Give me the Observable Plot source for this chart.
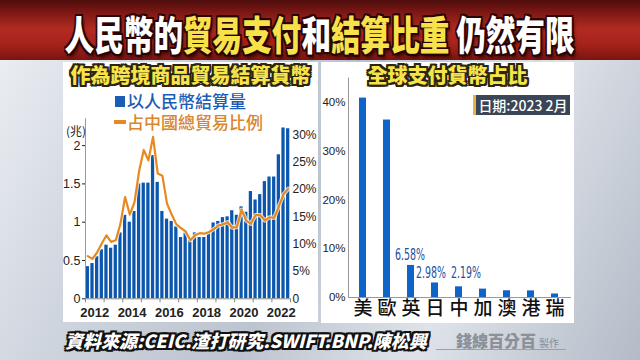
<!DOCTYPE html>
<html><head><meta charset="utf-8">
<script src="https://cdn.jsdelivr.net/npm/d3@7"></script>
<script src="https://cdn.jsdelivr.net/npm/@observablehq/plot@0.6"></script>
<style>
html,body{margin:0;padding:0;}
body{width:640px;height:360px;overflow:hidden;position:relative;font-family:"Noto Sans CJK TC","Noto Sans",sans-serif;
 background:linear-gradient(115deg,#eef1f5 0%,#cfd5de 25%,#bcc4cf 50%,#dfe3e9 72%,#b3bbc7 100%);}
#band{position:absolute;left:0;top:0;width:640px;height:60px;
 background:linear-gradient(180deg,#4d0d0c 0%,#7c1714 20%,#b12b22 48%,#a5221a 75%,#7a1410 100%);}
#title{position:absolute;left:-100px;top:11px;width:840px;text-align:center;line-height:44px;white-space:nowrap;}
#title span.in{display:inline-block;transform:scaleX(0.74);transform-origin:center;font-size:40px;font-weight:900;color:#fff;
 text-shadow:-2px -2px 0 #2a0404,2px -2px 0 #2a0404,-2px 2px 0 #2a0404,2px 2px 0 #2a0404,0 2px 0 #2a0404,0 -2px 0 #2a0404,2px 0 0 #2a0404,-2px 0 0 #2a0404,3px 4px 4px rgba(0,0,0,.6);}
#title .y{color:#f8e24b;}
.panel{position:absolute;background:#fff;}
.ptitle{position:absolute;font-size:20px;font-weight:900;color:#f7e34a;white-space:nowrap;line-height:24px;text-align:center;
 text-shadow:-2px -2px 0 #2b2410,2px -2px 0 #2b2410,-2px 2px 0 #2b2410,2px 2px 0 #2b2410,0 2px 0 #2b2410,0 -2px 0 #2b2410,2px 0 0 #2b2410,-2px 0 0 #2b2410;}
.leg{position:absolute;font-size:17px;font-weight:500;white-space:nowrap;line-height:18px;}
#chartL,#chartR{position:absolute;}
#chartL svg,#chartR svg{overflow:visible;}
#date{position:absolute;left:473px;top:95px;width:97px;height:20px;background:#3a4555;border-left:3px solid #e7b53c;color:#fff;
 font-size:14px;line-height:20px;padding-left:0;box-sizing:border-box;text-align:center;font-weight:500;}
#foot{position:absolute;left:65px;top:328px;font-size:18px;font-weight:900;font-style:italic;color:#fff;white-space:nowrap;line-height:24px;
 text-shadow:-2px -2px 0 #111,2px -2px 0 #111,-2px 2px 0 #111,2px 2px 0 #111,0 2px 0 #111,0 -2px 0 #111,2px 0 0 #111,-2px 0 0 #111;}
#logo{position:absolute;left:456px;top:330px;color:#8b9099;white-space:nowrap;line-height:20px;}
#logo .b{font-size:16px;font-weight:900;}
#logo .s{font-size:10px;margin-left:3px;}
#uline{position:absolute;left:436px;top:349px;width:130px;height:1px;background:#9aa0a8;}
</style></head>
<body>
<div id="band"></div>
<div id="title"><span class="in">人民幣的<span class="y">貿易支付</span>和<span class="y">結算比重</span> 仍然有限</span></div>

<div class="panel" style="left:63px;top:62px;width:255px;height:260px;"></div>
<div class="panel" style="left:321px;top:62px;width:253px;height:261px;"></div>

<div id="chartL" style="left:63px;top:62px;"></div>
<div id="chartR" style="left:321px;top:62px;"></div>

<div class="ptitle" style="left:63px;top:63px;width:255px;">作為跨境商品貿易結算貨幣</div>
<div class="ptitle" style="left:321px;top:63px;width:253px;">全球支付貨幣占比</div>

<div style="position:absolute;left:115px;top:96px;width:10px;height:11px;background:#1b5db5;"></div>
<div class="leg" style="left:127px;top:92px;color:#1b5db5;">以人民幣結算量</div>
<div style="position:absolute;left:114px;top:120px;width:12px;height:4px;background:#e38a24;"></div>
<div class="leg" style="left:127px;top:113px;color:#d9862c;">占中國總貿易比例</div>
<div style="position:absolute;left:66px;top:123px;font-size:12px;color:#222;line-height:16px;">(兆)</div>

<div id="date">日期:2023 2月</div>

<div id="uline"></div>
<div id="foot">資料來源:CEIC.渣打研究.SWIFT.BNP.陳松興</div>
<div id="logo"><span class="b">錢線百分百</span><span class="s">製作</span></div>

<script>
// ---- left chart data (quarterly, 2012Q1 - 2022Q4) ----
const firstYear = 2012;
const settleTrillion = [0.42,0.46,0.55,0.64, 0.70,0.66,0.70,0.86, 1.09,1.00,1.14,1.50,
  1.51,1.51,1.87,1.52, 1.14,1.04,1.01,0.94, 0.80,0.86,0.76,0.86, 0.80,0.80,0.86,0.99,
  1.01,1.06,1.07,1.15, 1.09,1.20,1.13,1.40, 1.29,1.36,1.53,1.59, 1.59,1.88,2.23,2.22];
const tradeSharePct = [7.8,7.3,8.5,10.1, 11.6,10.4,10.7,13.7, 18.6,15.4,17.6,23.3,
  27.2,25.3,29.6,22.9, 22.5,17.4,15.4,13.6, 12.9,12.3,10.7,11.6, 12.0,11.9,12.2,12.7,
  13.4,13.6,14.0,13.0, 13.1,16.3,14.3,13.7, 15.3,15.3,14.3,14.9, 14.8,16.9,19.1,20.1];
const yearTicks = [2012,2013,2014,2015,2016,2017,2018,2019,2020,2021,2022,2023];
const yearLabels = [2012,2014,2016,2018,2020,2022];
const leftTicks = [0,0.5,1,1.5,2];
const rightTicks = [0,5,10,15,20,25,30];

// ---- right chart data ----
const currencies = ["美","歐","英","日","中","加","澳","港","瑞"];
const paySharePct = [40.9,36.4,6.58,2.98,2.19,1.72,1.38,1.36,0.72];
const payTicks = [0,10,20,30,40];

const k = 2.5/35; // right-axis % mapped onto left-axis units
const q = settleTrillion.map((v,i)=>({t: firstYear + i/4, v, p: tradeSharePct[i]}));

const left = Plot.plot({
  width:255, height:260, marginLeft:22, marginRight:28, marginTop:44.8, marginBottom:23.7,
  x:{domain:[2012,2023]}, y:{domain:[0,2.5]},
  style:{background:"transparent", fontFamily:"'Liberation Sans',Arial,sans-serif", color:"#222"},
  marks:[
    Plot.rectY(q,{x1:"t", x2:d=>d.t+0.25, y:"v", fill:"#0c57ae", insetLeft:0.7, insetRight:0.7}),
    Plot.lineY(q,{x:d=>d.t+0.125, y:d=>d.p*k, stroke:"#fff", strokeWidth:4.2, strokeOpacity:0.75}),
    Plot.lineY(q,{x:d=>d.t+0.125, y:d=>d.p*k, stroke:"#e8891f", strokeWidth:2.2}),
    Plot.ruleY([0],{stroke:"#8a8a8a"}),
    Plot.ruleX([2012],{y1:0,y2:2.35,stroke:"#9a9a9a"}),
    Plot.axisY(leftTicks,{anchor:"left", tickSize:3, tickPadding:2, fontSize:12.5, tickFormat:d=>String(d), label:null}),
    Plot.axisY(rightTicks.map(p=>p*k),{anchor:"right", tickSize:0, tickPadding:2, fontSize:12,
      tickFormat:d=>{const p=Math.round(d/k); return p===0?"0":p+"%";}, label:null}),
    Plot.axisX(yearTicks,{tickSize:4, tickFormat:()=>"", label:null, stroke:"#888"}),
    Plot.axisX(yearLabels.map(y=>y+0.5),{tickSize:0, tickPadding:9, fontSize:13, fontWeight:"bold",
      tickFormat:d=>String(Math.floor(d)), label:null})
  ]
});
document.getElementById("chartL").append(left);

const pd = currencies.map((c,i)=>({c, v:paySharePct[i]}));
const narrow = "'Liberation Sans Narrow','DejaVu Sans Condensed','Liberation Sans',sans-serif";
const right = Plot.plot({
  width:253, height:261, marginLeft:27, marginRight:4, marginTop:15.6, marginBottom:26,
  x:{type:"band", domain:currencies, paddingInner:0.7, paddingOuter:0.335},
  y:{domain:[0,45]},
  style:{background:"transparent", fontFamily:"'Liberation Sans',Arial,sans-serif", color:"#222"},
  marks:[
    Plot.barY(pd,{x:"c", y:"v", fill:"#0e65c7"}),
    Plot.frame({anchor:"left", stroke:"#999"}),
    Plot.frame({anchor:"bottom", stroke:"#999"}),
    Plot.axisY(payTicks,{tickSize:0, tickPadding:3, fontSize:11.5, tickFormat:d=>d+"%", label:null}),
    Plot.axisX({tickSize:0, tickPadding:4, fontSize:19, fontWeight:500,
      fontFamily:"'Noto Sans CJK TC',sans-serif", fill:"#111", label:null}),
    Plot.text(pd.filter(d=>d.c==="英"),{x:"c", y:"v", text:d=>d.v.toFixed(2)+"%", lineAnchor:"bottom", dy:-5, dx:-1, fontSize:15, fontFamily:narrow, fill:"#1c4f9e"}),
    Plot.text(pd.filter(d=>d.c==="日"),{x:"c", y:"v", text:d=>d.v.toFixed(2)+"%", lineAnchor:"bottom", dy:-5, dx:-4, fontSize:15, fontFamily:narrow, fill:"#1c4f9e"}),
    Plot.text(pd.filter(d=>d.c==="中"),{x:"c", y:"v", text:d=>d.v.toFixed(2)+"%", lineAnchor:"bottom", dy:-8.5, dx:7, fontSize:15, fontFamily:narrow, fill:"#1c4f9e"})
  ]
});
document.getElementById("chartR").append(right);
// condense value labels like the TV graphic
right.querySelectorAll('g[aria-label="text"] text').forEach(t=>{
  t.setAttribute("textLength","30"); t.setAttribute("lengthAdjust","spacingAndGlyphs");
});
</script>
</body></html>
